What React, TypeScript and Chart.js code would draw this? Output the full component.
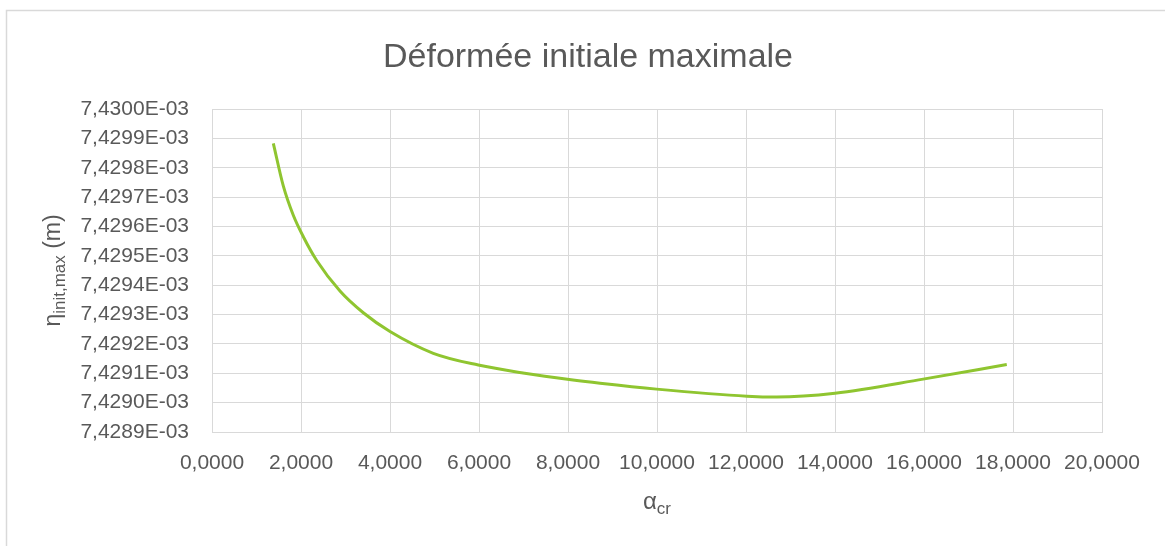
import React, { useEffect, useRef } from 'react';
import { Chart, registerables } from 'chart.js';

Chart.register(...registerables);

// ---- Data ----
const alphaCr = [1.378, 1.602, 1.827, 2.052, 2.353, 2.876, 3.4, 4.0, 4.973, 5.984, 6.989, 8.112, 8.72, 9.99, 12.02, 12.69, 14.0, 15.98, 17.86];
const etaInitMax = [
  7.429883e-3, 7.429738e-3, 7.429638e-3, 7.429565e-3, 7.429484e-3, 7.42938e-3, 7.429306e-3,
  7.429242e-3, 7.429168e-3, 7.429128e-3, 7.429101e-3, 7.429077e-3, 7.429066e-3, 7.429046e-3,
  7.429022e-3, 7.429019e-3, 7.429032e-3, 7.42908e-3, 7.42913e-3,
];
const xTickValues = [0, 2, 4, 6, 8, 10, 12, 14, 16, 18, 20];
const yTickValues = [
  7.4289e-3, 7.429e-3, 7.4291e-3, 7.4292e-3, 7.4293e-3, 7.4294e-3,
  7.4295e-3, 7.4296e-3, 7.4297e-3, 7.4298e-3, 7.4299e-3, 7.43e-3,
];
const chartTitle = 'Déformée initiale maximale';
const yTitleMain = 'η';
const yTitleSub = 'init,max';
const yTitleUnit = ' (m)';
const xTitleMain = 'α';
const xTitleSub = 'cr';

const FONT = '"Liberation Sans", Arial, sans-serif';
const TEXT_COLOR = '#595959';
const GRID_COLOR = '#d9d9d9';

const fmtX = (v: number) => v.toFixed(4).replace('.', ',');
const fmtY = (v: number) => (v * 1000).toFixed(4).replace('.', ',') + 'E-03';

const decorPlugin = {
  id: 'decor',
  beforeDraw(chart: any) {
    const ctx = chart.ctx;
    ctx.save();
    ctx.fillStyle = '#ffffff';
    ctx.fillRect(0, 0, chart.width, chart.height);
    ctx.strokeStyle = GRID_COLOR;
    ctx.lineWidth = 1.5;
    ctx.beginPath();
    ctx.moveTo(6.5, chart.height);
    ctx.lineTo(6.5, 10.5);
    ctx.lineTo(chart.width, 10.5);
    ctx.stroke();
    ctx.restore();
  },
  afterDraw(chart: any) {
    const ctx = chart.ctx;
    const ca = chart.chartArea;
    ctx.save();
    ctx.fillStyle = TEXT_COLOR;
    ctx.textBaseline = 'alphabetic';

    // Chart title
    ctx.font = `34px ${FONT}`;
    ctx.textAlign = 'center';
    ctx.fillText(chartTitle, 588, 67);

    // X axis title: α_cr
    ctx.textAlign = 'left';
    const mainX = `24px ${FONT}`;
    const subX = `17px ${FONT}`;
    ctx.font = mainX;
    const wA = ctx.measureText(xTitleMain).width;
    ctx.font = subX;
    const wC = ctx.measureText(xTitleSub).width;
    const cx = (ca.left + ca.right) / 2;
    const x0 = cx - (wA + wC) / 2;
    ctx.font = mainX;
    ctx.fillText(xTitleMain, x0, 509);
    ctx.font = subX;
    ctx.fillText(xTitleSub, x0 + wA, 514);

    // Y axis title: η_init,max (m), rotated
    const cy = (ca.top + ca.bottom) / 2;
    ctx.translate(60, cy);
    ctx.rotate(-Math.PI / 2);
    const mainY = `23px ${FONT}`;
    const subY = `17px ${FONT}`;
    ctx.font = mainY;
    const w1 = ctx.measureText(yTitleMain).width;
    const w3 = ctx.measureText(yTitleUnit).width;
    ctx.font = subY;
    const w2 = ctx.measureText(yTitleSub).width;
    const s = -(w1 + w2 + w3) / 2;
    ctx.font = mainY;
    ctx.fillText(yTitleMain, s, 0);
    ctx.font = subY;
    ctx.fillText(yTitleSub, s + w1, 5);
    ctx.font = mainY;
    ctx.fillText(yTitleUnit, s + w1 + w2, 0);
    ctx.restore();
  },
};

export default function App() {
  const canvasRef = useRef<HTMLCanvasElement | null>(null);

  useEffect(() => {
    const canvas = canvasRef.current;
    if (!canvas) return;
    const points = alphaCr.map((a, i) => ({ x: a, y: etaInitMax[i] }));
    const chart = new Chart(canvas, {
      type: 'scatter',
      data: {
        datasets: [
          {
            label: 'η init,max',
            data: points,
            showLine: true,
            borderColor: '#8FC530',
            backgroundColor: '#8FC530',
            borderWidth: 3,
            pointRadius: 0,
            cubicInterpolationMode: 'monotone',
          } as any,
        ],
      },
      options: {
        animation: false,
        responsive: false,
        devicePixelRatio: 1,
        layout: { padding: { left: 0, right: 63, top: 109, bottom: 74 } },
        plugins: {
          legend: { display: false },
          title: { display: false },
          tooltip: { enabled: false },
        },
        scales: {
          x: {
            type: 'linear',
            min: 0,
            max: 20,
            afterBuildTicks: (scale: any) => {
              scale.ticks = xTickValues.map((v) => ({ value: v }));
            },
            afterFit: (scale: any) => {
              scale.height = 40;
            },
            ticks: {
              callback: (v: any) => fmtX(Number(v)),
              color: TEXT_COLOR,
              font: { family: FONT, size: 21 },
              padding: 19,
              maxRotation: 0,
              autoSkip: false,
            },
            grid: { color: GRID_COLOR, lineWidth: 1, drawTicks: false },
            border: { display: true, color: GRID_COLOR, width: 1 },
          },
          y: {
            type: 'linear',
            min: 7.4289e-3,
            max: 7.43e-3,
            afterBuildTicks: (scale: any) => {
              scale.ticks = yTickValues.map((v) => ({ value: v }));
            },
            afterFit: (scale: any) => {
              scale.width = 212;
            },
            ticks: {
              callback: (v: any) => fmtY(Number(v)),
              color: TEXT_COLOR,
              font: { family: FONT, size: 21 },
              padding: 23,
              autoSkip: false,
            },
            grid: { color: GRID_COLOR, lineWidth: 1, drawTicks: false },
            border: { display: true, color: GRID_COLOR, width: 1 },
          },
        },
      },
      plugins: [decorPlugin],
    });
    return () => chart.destroy();
  }, []);

  return (
    <div style={{ position: 'fixed', left: 0, top: 0, width: 1165, height: 546, background: '#fff' }}>
      <canvas ref={canvasRef} width={1165} height={546} style={{ width: 1165, height: 546, display: 'block' }} />
    </div>
  );
}
